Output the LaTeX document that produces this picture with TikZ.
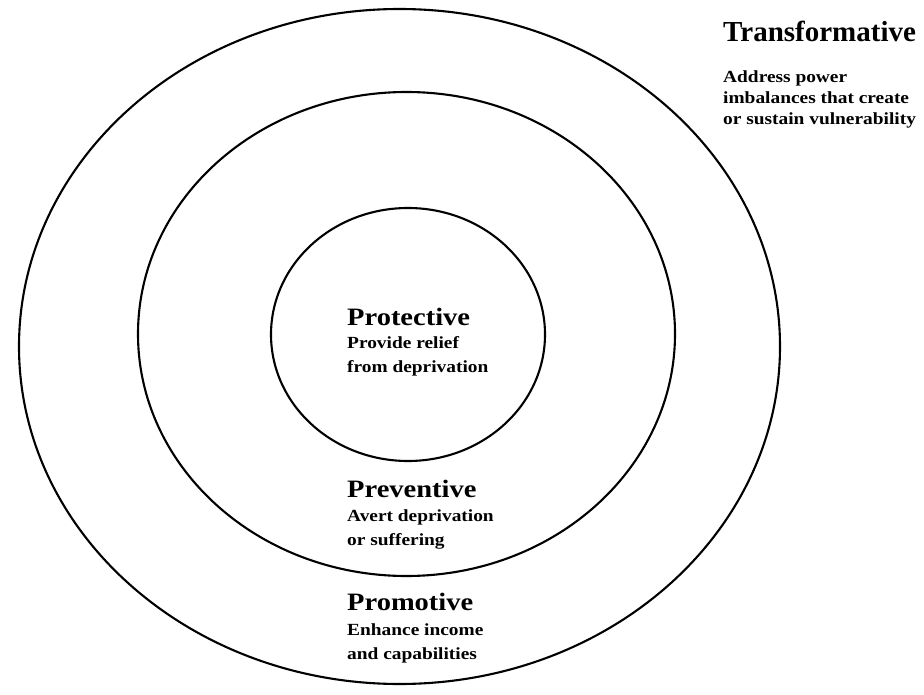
\documentclass[tikz,border=0pt]{standalone}
\usepackage{fontspec}
\setmainfont{Liberation Serif}
\newfontfamily\widefont[FakeStretch=1.14]{Liberation Serif}
\usetikzlibrary{positioning}

\begin{document}
\begin{tikzpicture}[
    x=1pt, y=-1pt,
    ring/.style={line width=2.1pt},
    level/.style={font=\widefont\bfseries\fontsize{25}{30}\selectfont,
                  inner sep=0pt, anchor=base west},
    note/.style={font=\widefont\bfseries\fontsize{17}{23.5}\selectfont,
                 inner sep=0pt, anchor=base west, align=left},
  ]
  \useasboundingbox (0,0) rectangle (924,695);

  % the three nested rings
  \draw[ring] (399.5,346.5) ellipse [x radius=380.5, y radius=337.5];
  \draw[ring] (406.5,334)   ellipse [x radius=268.5, y radius=242];
  \draw[ring] (408,334.5)   ellipse [x radius=137,   y radius=126.5];

  % labels inside the rings (a note's base is its last line)
  \node[level] (protective) at (347,325) {Protective};
  \node[note]  (protectivetext) at ([yshift=-47pt]protective.base west)
               {Provide relief\\from deprivation};

  \node[level] (preventive) at (347,497) {Preventive};
  \node[note]  (preventivetext) at ([yshift=-48pt]preventive.base west)
               {Avert deprivation\\or suffering};

  \node[level] (promotive) at (347,610) {Promotive};
  \node[note]  (promotivetext) at ([yshift=-49pt]promotive.base west)
               {Enhance income\\and capabilities};

  % outside label, top right
  \node[level, font=\bfseries\fontsize{29}{34}\selectfont] (transformative) at (723,42) {Transformative};
  \node[note, font=\widefont\bfseries\fontsize{17}{21}\selectfont] (transformativetext)
               at ([yshift=-83pt]transformative.base west)
               {Address power\\imbalances that create\\or sustain vulnerability};
\end{tikzpicture}
\end{document}
